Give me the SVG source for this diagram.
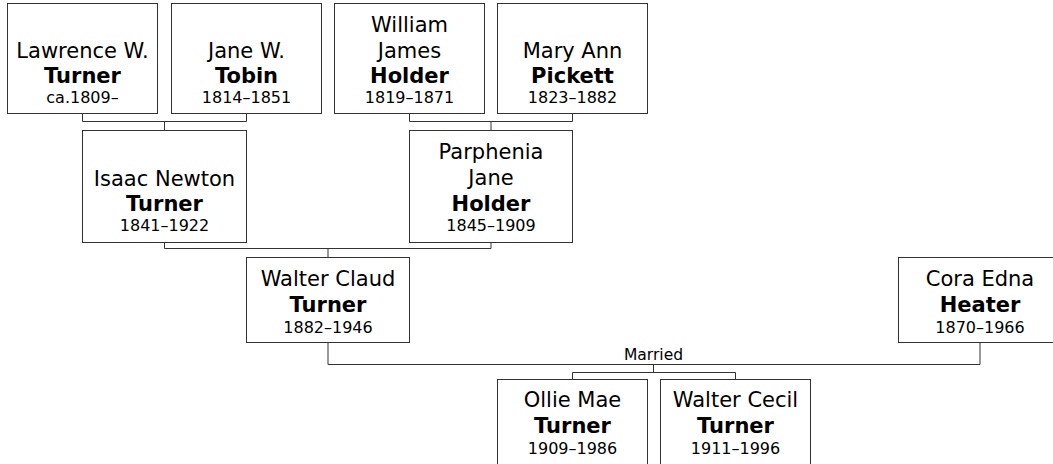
<svg xmlns="http://www.w3.org/2000/svg" width="1053" height="464" viewBox="0 0 1053 464">
<style>
.box{fill:#fff;stroke:#333;stroke-width:1}
.conn{fill:none;stroke:#333;stroke-width:1}
text{font-family:"DejaVu Sans",Verdana,sans-serif;fill:#000;text-anchor:middle}
.n{font-size:21px}
.s{font-size:21px;font-weight:bold}
.d{font-size:16px}
.lbl{font-size:15.5px}
</style>
<rect width="1053" height="464" fill="#fff"/>
<g id="connectors">
<path class="conn" d="M82.5,113.5V121.5H246.5V113.5M164.5,121.5V130.5"/>
<path class="conn" d="M409.5,113.5V121.5H572.5V113.5M491,121.5V130.5"/>
<path class="conn" d="M164.5,242.5V248.5H491V242.5M328,248.5V257.5"/>
<path class="conn" d="M328,342.5V364.5H980V342.5"/>
<path class="conn" d="M653.5,364.5V372.5M572.5,379.5V372.5H735.5V379.5"/>
<text class="lbl" x="653.5" y="360">Married</text>
</g>
<g id="lawrence">
<rect class="box" x="7.5" y="3.5" width="150" height="110"/>
<text class="n" x="82.5" y="58">Lawrence W.</text>
<text class="s" x="82.5" y="83">Turner</text>
<text class="d" x="82.5" y="103">ca.1809–</text>
</g>
<g id="jane">
<rect class="box" x="171.5" y="3.5" width="150" height="110"/>
<text class="n" x="246.5" y="58">Jane W.</text>
<text class="s" x="246.5" y="83">Tobin</text>
<text class="d" x="246.5" y="103">1814–1851</text>
</g>
<g id="william">
<rect class="box" x="334.5" y="3.5" width="150" height="110"/>
<text class="n" x="409.5" y="32">William</text>
<text class="n" x="409.5" y="57.5">James</text>
<text class="s" x="409.5" y="83">Holder</text>
<text class="d" x="409.5" y="103">1819–1871</text>
</g>
<g id="mary">
<rect class="box" x="497.5" y="3.5" width="150" height="110"/>
<text class="n" x="572.5" y="58">Mary Ann</text>
<text class="s" x="572.5" y="83">Pickett</text>
<text class="d" x="572.5" y="103">1823–1882</text>
</g>
<g id="isaac">
<rect class="box" x="82.5" y="130.5" width="164" height="112"/>
<text class="n" x="164.5" y="185.5">Isaac Newton</text>
<text class="s" x="164.5" y="211">Turner</text>
<text class="d" x="164.5" y="231">1841–1922</text>
</g>
<g id="parphenia">
<rect class="box" x="409.5" y="130.5" width="163" height="112"/>
<text class="n" x="491" y="159">Parphenia</text>
<text class="n" x="491" y="184.5">Jane</text>
<text class="s" x="491" y="210.5">Holder</text>
<text class="d" x="491" y="231">1845–1909</text>
</g>
<g id="walterclaud">
<rect class="box" x="246.5" y="257.5" width="163" height="85"/>
<text class="n" x="328" y="286">Walter Claud</text>
<text class="s" x="328" y="312">Turner</text>
<text class="d" x="328" y="332.5">1882–1946</text>
</g>
<g id="cora">
<rect class="box" x="898.5" y="257.5" width="163" height="85"/>
<text class="n" x="980" y="286">Cora Edna</text>
<text class="s" x="980" y="312">Heater</text>
<text class="d" x="980" y="332.5">1870–1966</text>
</g>
<g id="ollie">
<rect class="box" x="497.5" y="379.5" width="150" height="110"/>
<text class="n" x="572.5" y="407">Ollie Mae</text>
<text class="s" x="572.5" y="433">Turner</text>
<text class="d" x="572.5" y="454">1909–1986</text>
</g>
<g id="waltercecil">
<rect class="box" x="660.5" y="379.5" width="150" height="110"/>
<text class="n" x="735.5" y="407">Walter Cecil</text>
<text class="s" x="735.5" y="433">Turner</text>
<text class="d" x="735.5" y="454">1911–1996</text>
</g>
</svg>
